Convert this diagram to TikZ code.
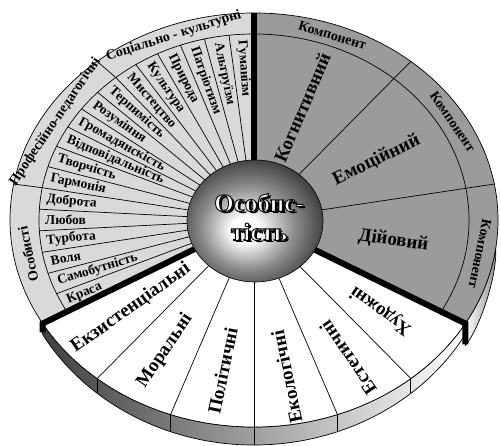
\documentclass[tikz,border=0pt]{standalone}
\usepackage{fontspec}
\setmainfont{Liberation Serif}
\usepackage{tikz}
\definecolor{lightsec}{HTML}{D9D9D9}
\definecolor{darksec}{HTML}{9B9B9B}
\pgfdeclareradialshading{sphereshade}{\pgfpoint{-4bp}{-4bp}}{%
  color(0bp)=(white); color(5bp)=(white); color(17bp)=(black!45);
  color(30bp)=(black!82); color(40bp)=(black); color(50bp)=(black)}
\newcommand\outlined[1]{\special{pdf:literal direct 2 Tr 0.9 w 0 G}#1\special{pdf:literal direct 0 Tr}}
\begin{document}
\begin{tikzpicture}[x=1pt,y=1pt,
    rule/.style={line width=0.7pt},
    divider/.style={line width=6pt,line join=miter},
    itemlbl/.style={anchor=west,inner sep=0pt,font=\bfseries\fontsize{13.5}{15}\selectfont},
    bandlbl/.style={inner sep=0pt,font=\bfseries\fontsize{14}{16}\selectfont},
    biglbl/.style={inner sep=0pt,font=\bfseries\fontsize{19}{21}\selectfont},
    sphlbl/.style={align=center,inner sep=0pt,font=\bfseries\fontsize{25}{29}\selectfont},
  ]
  \useasboundingbox (0,0) rectangle (501,446);
  \begin{scope}[shift={(254,226)}]
    \shade[left color=black!75,right color=white,draw=black,rule]
      (210:244 and 207) arc[start angle=210,end angle=330,x radius=244,y radius=207]
      -- ([yshift=-4pt]330:244 and 221) arc[start angle=330,end angle=210,x radius=244,y radius=221] -- cycle;
    \shade[left color=white,right color=black!45,draw=black,rule]
      (330:244 and 207) arc[start angle=330,end angle=352,x radius=244,y radius=207]
      .. controls (243.5,-55) and (226,-108) .. ([yshift=-22pt]330:244 and 207) -- cycle;
    \fill[lightsec] (0,0) -- (90:244 and 207) arc[start angle=90,end angle=210,x radius=244,y radius=207] -- cycle;
    \fill[darksec] (0,0) -- (-30:244 and 207) arc[start angle=-30,end angle=90,x radius=244,y radius=207] -- cycle;
    \fill[white] (0,0) -- (210:244 and 207) arc[start angle=210,end angle=330,x radius=244,y radius=207] -- cycle;
    \draw[rule] (0,0) ellipse[x radius=244,y radius=207];
    \draw[rule] (90:215 and 186) arc[start angle=90,end angle=210,x radius=215,y radius=186];
    \draw[rule] (-30:215 and 186) arc[start angle=-30,end angle=90,x radius=215,y radius=186];
    \foreach \k in {1,...,17}
      \draw[rule] (0,0) -- ({90+\k*20/3}:215 and 186);
    \foreach \ang in {130,170}
      \draw[rule] (\ang:215 and 186) -- (\ang:244 and 207);
    \foreach \ang in {10,50}
      \draw[rule] (0,0) -- (\ang:244 and 207);
    \foreach \ang in {230,250,...,310} {
      \draw[rule] (0,0) -- (\ang:244 and 207);
      \draw[rule] (\ang:244 and 207) -- ([yshift=-4pt]\ang:244 and 221);
    }
    \draw[divider] (0,0) -- (90:244 and 207);
    \draw[divider] (0,0) -- (210:244 and 207) -- ++(0,-9);
    \draw[divider] (0,0) -- (330:244 and 207) -- ++(0,-21);

    \foreach \name [count=\k] in {Гуманізм,Альтруїзм,Патріотизм,Природа,Культура,Мистецтво,
        Терпимість,Розуміння,Громадянскість,Відповідальність,Творчість,Гармонія,
        Доброта,Любов,Турбота,Воля,Самобутність,Краса} {
      \pgfmathsetmacro\ang{90+(\k-0.5)*20/3}
      \pgfmathsetmacro\rot{atan2(207*sin(\ang),244*cos(\ang))+180}
      \node[itemlbl,rotate=\rot] (item\k) at (\ang:209 and 180) {\name};
    }
    \foreach \name/\ang/\nm in {Компонент/70/comp1,Компонент/30/comp2,Компонент/-10/comp3,
        Соціально - культурні/110.5/social,Професійно-педагогічні/150/prof,Особисті/190/pers} {
      \pgfmathsetmacro\rot{atan2(-207*cos(\ang),244*sin(\ang))}
      \node[bandlbl,rotate=\rot] (\nm) at (\ang:229.5 and 196.5) {\name};
    }
    \foreach \name/\ang/\nm in {Когнитивний/70/cogn,Емоційний/30/emot,Дійовий/-10/act} {
      \pgfmathsetmacro\rot{atan2(207*sin(\ang),244*cos(\ang))}
      \node[biglbl,rotate=\rot] (\nm) at (\ang:141.5 and 120) {\name};
    }
    \foreach \name/\ang/\f/\nm in {Екзистенціальні/220/0.66/exist,Моральні/240/0.73/moral,
        Політичні/260/0.74/polit,Екологічні/280/0.77/ecol,Естетичні/300/0.77/aesth,Художні/320/0.68/art} {
      \pgfmathsetmacro\rot{atan2(207*sin(\ang),244*cos(\ang))+180}
      \pgfmathsetmacro\rx{\f*244}
      \pgfmathsetmacro\ry{\f*207}
      \node[biglbl,rotate=\rot] (\nm) at (\ang:{\rx} and {\ry}) {\name};
    }

    \shade[shading=sphereshade] (1,-1) ellipse[x radius=68,y radius=61];
    \draw[line width=0.6pt] (1,-1) ellipse[x radius=68,y radius=61];
    \node[sphlbl,text=black] (shadow) at (7.4,0.6) {Особис-\\тість};
    \node[sphlbl,text=white] (person) at (5,3) {\outlined{Особис-}\\\outlined{тість}};
  \end{scope}
\end{tikzpicture}
\end{document}
